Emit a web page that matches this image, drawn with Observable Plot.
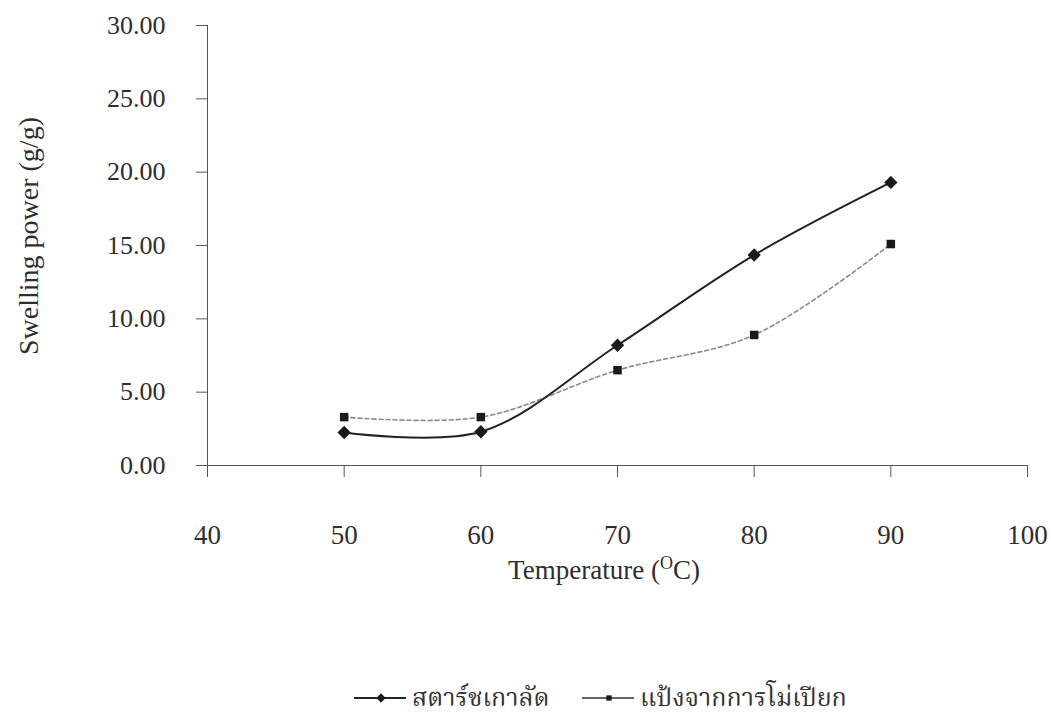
<!DOCTYPE html>
<html><head><meta charset="utf-8">
<script src="https://cdn.jsdelivr.net/npm/d3@7"></script>
<script src="https://cdn.jsdelivr.net/npm/@observablehq/plot@0.6"></script>
<style>
body{margin:0;background:#fff;font-family:"Liberation Serif",serif;}
#wrap{position:relative;width:1051px;height:720px;}
#legend{position:absolute;left:353px;top:684px;height:30px;display:flex;align-items:center;font-size:25px;color:#333;font-family:"Liberation Serif","Noto Serif Thai","Noto Sans Thai",serif;}
.item{display:flex;align-items:center;}
</style>
</head><body><div id="wrap"><div id="chart"></div><div id="legend"></div></div>
<script>
const temperatures = [50, 60, 70, 80, 90];
const chestnutStarch = [2.25, 2.3, 8.2, 14.35, 19.3];
const wetMilledFlour = [3.3, 3.3, 6.5, 8.9, 15.1];
const seriesNames = ["สตาร์ชเกาลัด", "แป้งจากการโม่เปียก"];
const xTicks = [40, 50, 60, 70, 80, 90, 100];
const yTicks = [0, 5, 10, 15, 20, 25, 30];

const dataA = temperatures.map((t, i) => ({t, v: chestnutStarch[i]}));
const dataB = temperatures.map((t, i) => ({t, v: wetMilledFlour[i]}));

const svg = Plot.plot({
  width: 1051, height: 660,
  marginLeft: 207, marginRight: 24, marginTop: 25, marginBottom: 195,
  style: {fontFamily: "Liberation Serif, serif", color: "#2e2e2e", background: "#fff", overflow: "visible"},
  x: {domain: [40, 100]},
  y: {domain: [0, 30]},
  marks: [
    Plot.axisY({ticks: yTicks, tickFormat: d => d.toFixed(2), tickSize: 11, tickPadding: 31, fontSize: 26, label: null, stroke: "#555"}),
    Plot.axisX({ticks: xTicks, tickSize: 12, tickPadding: 47, fontSize: 27, label: null, stroke: "#555"}),
    Plot.ruleX([40], {stroke: "#555"}),
    Plot.ruleY([0], {stroke: "#555"}),
    Plot.line(dataB, {x: "t", y: "v", curve: "catmull-rom", stroke: "#8a8a8a", strokeWidth: 1.6, strokeDasharray: "4,3"}),
    Plot.line(dataA, {x: "t", y: "v", curve: "catmull-rom", stroke: "#222", strokeWidth: 2}),
    Plot.dot(dataB, {x: "t", y: "v", symbol: "square", r: 4.8, fill: "#1a1a1a", stroke: "none"}),
    Plot.dot(dataA, {x: "t", y: "v", symbol: "diamond2", r: 6, fill: "#1a1a1a", stroke: "none"})
  ]
});
document.getElementById("chart").appendChild(svg);

const s = d3.select(svg);
const xt = s.append("text")
  .attr("x", 604).attr("y", 579)
  .attr("text-anchor", "middle")
  .attr("font-size", 27).attr("fill", "#2e2e2e")
  .attr("font-family", "Liberation Serif, serif");
xt.append("tspan").text("Temperature (");
xt.append("tspan").attr("dy", -10).attr("font-size", 18).text("O");
xt.append("tspan").attr("dy", 10).text("C)");

s.append("text")
  .attr("transform", "translate(28,236) rotate(-90)")
  .attr("text-anchor", "middle")
  .attr("dominant-baseline", "central")
  .attr("font-size", 28).attr("fill", "#2e2e2e")
  .attr("font-family", "Liberation Serif, serif")
  .text("Swelling power (g/g)");

const legend = d3.select("#legend");
const items = [
  {name: seriesNames[0], sym: d3.symbolDiamond2, size: 55, stroke: "#222"},
  {name: seriesNames[1], sym: d3.symbolSquare2, size: 36, stroke: "#666"}
];
const lefts = [0, 228];
items.forEach((it, i) => {
  const d = legend.append("div").attr("class", "item")
    .style("position", "absolute").style("left", lefts[i] + "px").style("top", "0px").style("height", "30px");
  const sv = d.append("svg").attr("width", 54).attr("height", 30);
  sv.append("line").attr("x1", 1).attr("x2", 53).attr("y1", 14).attr("y2", 14)
    .attr("stroke", it.stroke).attr("stroke-width", 1.8);
  sv.append("path").attr("d", d3.symbol(it.sym, it.size)()).attr("transform", "translate(28,14)").attr("fill", "#1a1a1a");
  d.append("span").style("margin-left", "5px").style("white-space", "nowrap").text(it.name);
});
</script>
</body></html>
